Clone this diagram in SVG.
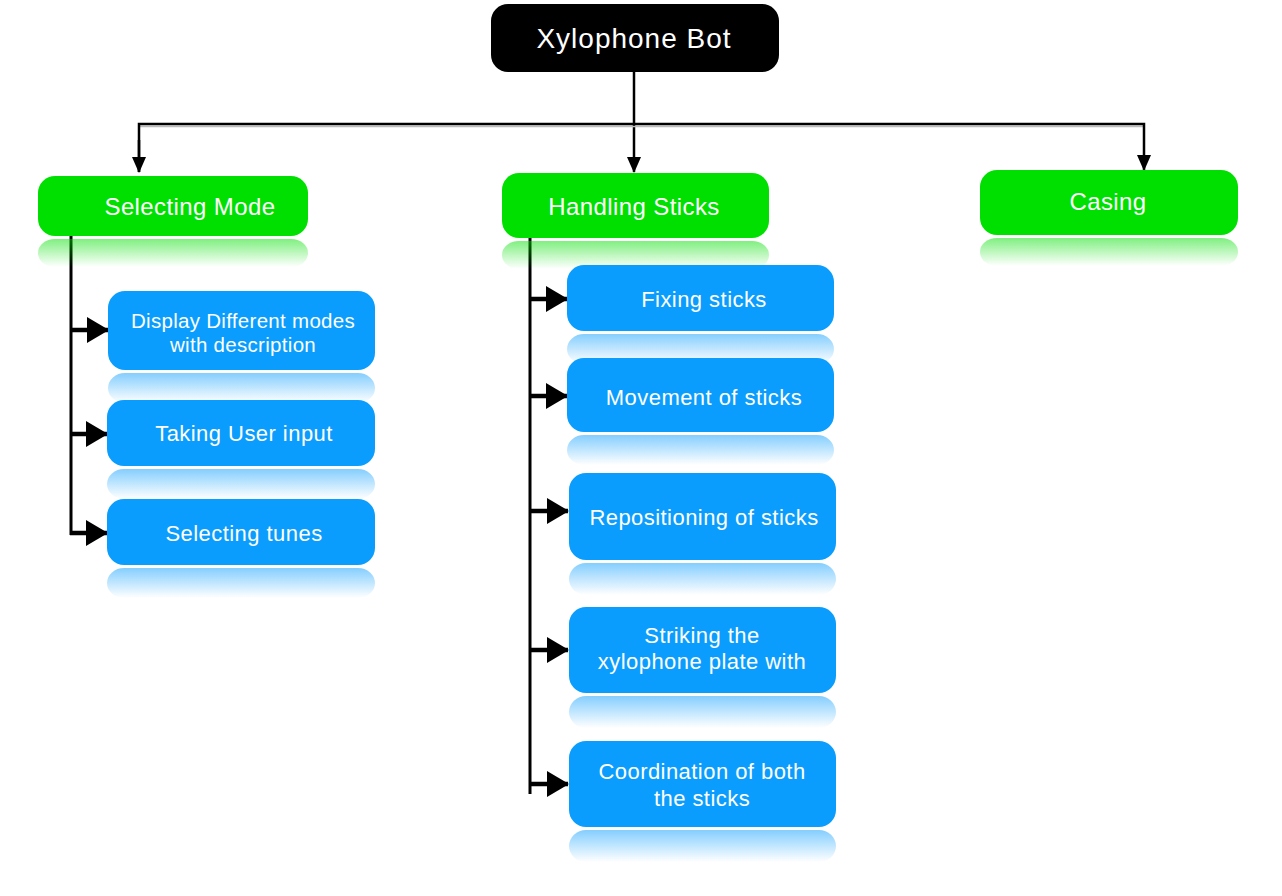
<svg xmlns="http://www.w3.org/2000/svg" width="1282" height="896" viewBox="0 0 1282 896">
<style>
  .t{font-family:"Liberation Sans",Arial,Helvetica,sans-serif;fill:#fff;text-anchor:middle;dominant-baseline:central}
  .s{font-size:22px;letter-spacing:0.45px}
  .xs{font-size:20.5px;letter-spacing:0.3px}
  .m{font-size:24px;letter-spacing:0.4px}
  .root{fill:#000}
  .g{fill:#00E000}
  .b{fill:#0A9DFD}
  .gr{fill:url(#gref)}
  .br{fill:url(#bref)}
  .ln{stroke:#000;fill:none}
</style>
<defs>
  <linearGradient id="gref" x1="0" y1="0" x2="0" y2="1">
    <stop offset="0" stop-color="#00E000" stop-opacity="0.5"/>
    <stop offset="1" stop-color="#00E000" stop-opacity="0"/>
  </linearGradient>
  <linearGradient id="bref" x1="0" y1="0" x2="0" y2="1">
    <stop offset="0" stop-color="#0A9DFD" stop-opacity="0.5"/>
    <stop offset="1" stop-color="#0A9DFD" stop-opacity="0"/>
  </linearGradient>
  <marker id="sa" markerUnits="userSpaceOnUse" markerWidth="16" markerHeight="16" viewBox="0 0 16 16" refX="15" refY="8" orient="auto">
    <path d="M0,1 L16,8 L0,15 Z" fill="#000"/>
  </marker>
  <marker id="la" markerUnits="userSpaceOnUse" markerWidth="22" markerHeight="26" viewBox="0 0 22 26" refX="21" refY="13" orient="auto">
    <path d="M0,0 L22,13 L0,26 Z" fill="#000"/>
  </marker>
</defs>
<rect width="1282" height="896" fill="#fff"/>

<g id="connectors">
  <line class="ln" x1="634" y1="72" x2="634" y2="172" stroke-width="2.5" marker-end="url(#sa)"/>
  <line x1="139" y1="126.5" x2="1144" y2="126.5" stroke="#bbb" stroke-width="1.5"/>
  <polyline class="ln" points="139,172 139,124 1144,124 1144,170" stroke-width="2.5" marker-end="url(#sa)"/>
  <line class="ln" x1="139" y1="140" x2="139" y2="172" stroke-width="2.5" marker-end="url(#sa)"/>
  <line class="ln" x1="71" y1="232" x2="71" y2="535" stroke-width="3"/>
  <line class="ln" x1="70" y1="330" x2="108" y2="330" stroke-width="4.5" marker-end="url(#la)"/>
  <line class="ln" x1="70" y1="434" x2="107" y2="434" stroke-width="4.5" marker-end="url(#la)"/>
  <line class="ln" x1="70" y1="533" x2="107" y2="533" stroke-width="4.5" marker-end="url(#la)"/>
  <line class="ln" x1="530" y1="238" x2="530" y2="794" stroke-width="3"/>
  <line class="ln" x1="529" y1="299" x2="567" y2="299" stroke-width="4.5" marker-end="url(#la)"/>
  <line class="ln" x1="529" y1="396" x2="567" y2="396" stroke-width="4.5" marker-end="url(#la)"/>
  <line class="ln" x1="529" y1="511" x2="568" y2="511" stroke-width="4.5" marker-end="url(#la)"/>
  <line class="ln" x1="529" y1="650" x2="568" y2="650" stroke-width="4.5" marker-end="url(#la)"/>
  <line class="ln" x1="529" y1="784" x2="568" y2="784" stroke-width="4.5" marker-end="url(#la)"/>
</g>

<g id="root">
  <rect class="root" x="491" y="4" width="288" height="68" rx="17"/>
  <text class="t" x="634" y="38" font-size="28" letter-spacing="1">Xylophone Bot</text>
</g>

<g id="selecting-mode">
  <rect class="gr" x="38" y="239" width="270" height="28" rx="17"/>
  <rect class="g" x="38" y="176" width="270" height="60" rx="17"/>
  <text class="t m" x="190" y="206">Selecting Mode</text>
</g>

<g id="handling-sticks">
  <rect class="gr" x="502" y="241" width="267" height="28" rx="17"/>
  <rect class="g" x="502" y="173" width="267" height="65" rx="17"/>
  <text class="t m" x="634" y="206">Handling Sticks</text>
</g>

<g id="casing">
  <rect class="gr" x="980" y="238" width="258" height="28" rx="17"/>
  <rect class="g" x="980" y="170" width="258" height="65" rx="17"/>
  <text class="t m" x="1108" y="201">Casing</text>
</g>

<g id="display-modes">
  <rect class="br" x="108" y="373" width="267" height="30" rx="17"/>
  <rect class="b" x="108" y="291" width="267" height="79" rx="17"/>
  <text class="t xs" x="243" y="320">Display Different modes</text>
  <text class="t xs" x="243" y="344">with description</text>
</g>

<g id="user-input">
  <rect class="br" x="107" y="469" width="268" height="30" rx="17"/>
  <rect class="b" x="107" y="400" width="268" height="66" rx="17"/>
  <text class="t s" x="244" y="433">Taking User input</text>
</g>

<g id="selecting-tunes">
  <rect class="br" x="107" y="568" width="268" height="30" rx="17"/>
  <rect class="b" x="107" y="499" width="268" height="66" rx="17"/>
  <text class="t s" x="244" y="533">Selecting tunes</text>
</g>

<g id="fixing-sticks">
  <rect class="br" x="567" y="334" width="267" height="30" rx="17"/>
  <rect class="b" x="567" y="265" width="267" height="66" rx="17"/>
  <text class="t s" x="704" y="299">Fixing sticks</text>
</g>

<g id="movement-sticks">
  <rect class="br" x="567" y="435" width="267" height="30" rx="17"/>
  <rect class="b" x="567" y="358" width="267" height="74" rx="17"/>
  <text class="t s" x="704" y="397">Movement of sticks</text>
</g>

<g id="repositioning-sticks">
  <rect class="br" x="569" y="563" width="267" height="32" rx="17"/>
  <rect class="b" x="569" y="473" width="267" height="87" rx="17"/>
  <text class="t s" x="704" y="517">Repositioning of sticks</text>
</g>

<g id="striking">
  <rect class="br" x="569" y="696" width="267" height="32" rx="17"/>
  <rect class="b" x="569" y="607" width="267" height="86" rx="17"/>
  <text class="t s" x="702" y="635">Striking the</text>
  <text class="t s" x="702" y="661">xylophone plate with</text>
</g>

<g id="coordination">
  <rect class="br" x="569" y="830" width="267" height="32" rx="17"/>
  <rect class="b" x="569" y="741" width="267" height="86" rx="17"/>
  <text class="t s" x="702" y="771">Coordination of both</text>
  <text class="t s" x="702" y="798">the sticks</text>
</g>
</svg>
